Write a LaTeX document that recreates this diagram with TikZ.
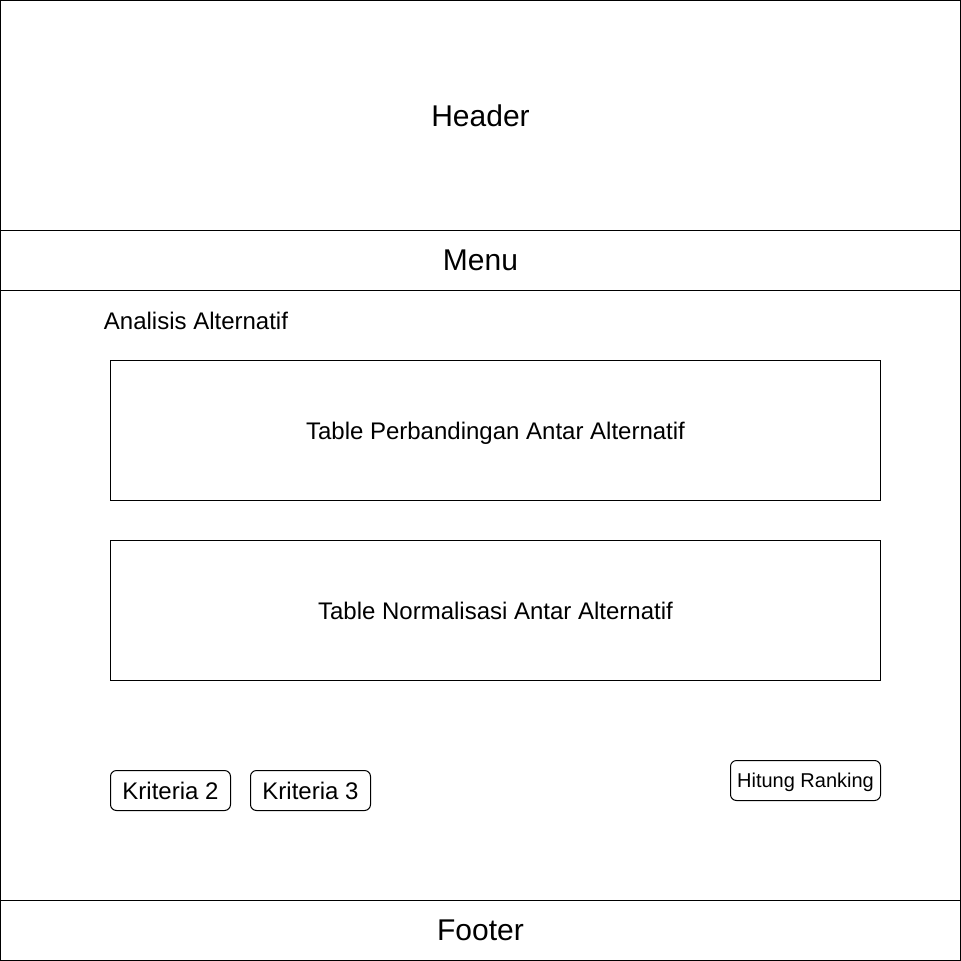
\documentclass[tikz,border=0pt]{standalone}
\usepackage{fontspec}
\setmainfont{Liberation Sans}
\usetikzlibrary{positioning}

\tikzset{
  panel/.style={draw, line width=1pt, inner sep=0pt, outer sep=0pt},
  tabel/.style={panel, minimum width=770, minimum height=140, text depth=0pt, font=\fontsize{24}{28}\selectfont},
  tombol/.style={panel, rounded corners=6pt, minimum height=40, text depth=0pt, font=\fontsize{24}{28}\selectfont},
  judul/.style={font=\fontsize{30}{36}\selectfont}
}

\begin{document}
\begin{tikzpicture}[x=1pt, y=-1pt]
      \useasboundingbox (0,0) rectangle (961,961);
      % kerangka halaman
      \node [panel, minimum width=960, minimum height=230, judul] (header) at (480.5,115.5) {Header};
      \node [panel, minimum width=960, minimum height=60, judul] (menu) at (480.5,260.5) {Menu};
      \node [panel, minimum width=960, minimum height=610] (isi) at (480.5,595.5) {};
      \node [panel, minimum width=960, minimum height=60, judul] (footer) at (480.5,930.5) {Footer};
      % isi
      \node [font=\fontsize{24}{28}\selectfont] (analisis) at (196,321) {Analisis Alternatif};
      \node [tabel] (perbandingan) at (495.5,430.5) {Table Perbandingan Antar Alternatif};
      \node [tabel] (normalisasi) at (495.5,610.5) {Table Normalisasi Antar Alternatif};
      \node [tombol, minimum width=120] (kriteria2) at (170.5,790.5) {Kriteria 2};
      \node [tombol, minimum width=120, right=20 of kriteria2] (kriteria3) {Kriteria 3};
      \node [tombol, minimum width=150, font=\fontsize{20}{24}\selectfont] (ranking) at (805.5,780.5) {Hitung Ranking};
\end{tikzpicture}
\end{document}
